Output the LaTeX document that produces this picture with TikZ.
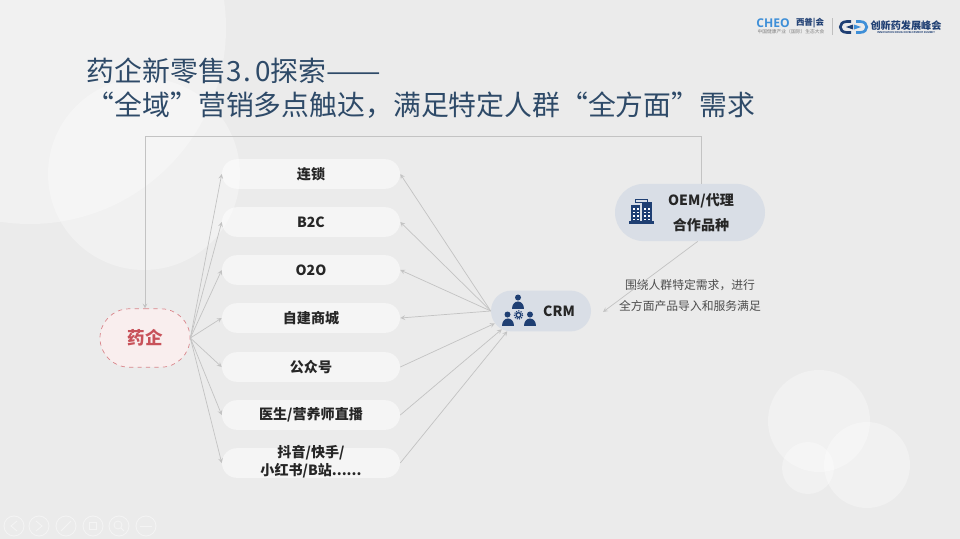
\documentclass[tikz,border=0pt]{standalone}
\usepackage{graphicx}
\usepackage{fontspec}
\setmainfont{Noto Sans CJK SC}
\newfontfamily\latinfont{Open Sans}
\usetikzlibrary{shapes.misc}
\definecolor{bgcol}{HTML}{EBEBEB}
\definecolor{titlecol}{HTML}{2E4A68}
\definecolor{navycol}{HTML}{1F3F73}
\definecolor{skycol}{HTML}{3E8FD8}
\definecolor{pillcol}{HTML}{D9DEE6}
\definecolor{linecol}{HTML}{C3C3C3}
\definecolor{redcol}{HTML}{C8525A}
\definecolor{pinkcol}{HTML}{F9EEEE}
\tikzset{
  chanbox/.style={rounded rectangle,fill=white,fill opacity=.5,text opacity=1,minimum width=44.5mm,minimum height=7.4mm,inner sep=0pt,align=center,font=\fontsize{10}{13}\selectfont\bfseries,text=black!85},
  darkpill/.style={rounded rectangle,fill=pillcol,inner sep=0pt,align=center,font=\fontsize{10}{17.8}\selectfont\bfseries,text=black!85},
  linkline/.style={draw=linecol,line width=.5pt,-stealth},
  softdisc/.style={fill=white,fill opacity=.3,draw=none},
  toolring/.style={draw=white!45!bgcol,line width=.6pt}
}
\newcommand{\personicon}[2]{
  \fill[navycol] (#1,#2-5.5) circle (3);
  \fill[navycol] (#1-6,#2+6) .. controls (#1-6,#2-4) and (#1+6,#2-4) .. (#1+6,#2+6) -- cycle;
}
\begin{document}
\begin{tikzpicture}[x=.25mm,y=-.25mm]
\fill[bgcol] (0,0) rectangle (960,539);
\useasboundingbox (0,0) rectangle (960,539);

% background discs
\begin{scope}
\clip (0,0) rectangle (960,539);
\fill[softdisc] (30,28) circle (196);
\fill[softdisc] (144,174) circle (96);
\fill[softdisc] (819,421) circle (51);
\fill[softdisc] (867,465) circle (43);
\fill[softdisc] (808,468) circle (26);
\end{scope}

% logos
\node[text=skycol,font=\latinfont\fontsize{8.6}{8}\selectfont\bfseries] (cheo) at (773,23) {CHEO};
\node[text=navycol,font=\fontsize{6}{6}\selectfont\bfseries] (xipu) at (810,23) {西普|会};
\node[text=gray,font=\fontsize{3.4}{4}\selectfont] (cheosub) at (791,32) {中国健康产业（国际）生态大会};
\draw[gray!50,line width=.3pt] (832,18) -- (832,35);
\draw[navycol,line width=1.9pt] (851,21.5) -- (847,21.5) .. controls (838,21.5) and (838,32.5) .. (847,32.5) -- (851,32.5);
\draw[skycol,line width=1.9pt] (856,21.5) -- (860,21.5) .. controls (869,21.5) and (869,32.5) .. (860,32.5) -- (856,32.5);
\fill[navycol] (846,27) -- (853,24.5) -- (853,29.5) -- cycle;
\fill[skycol] (861,27) -- (854,24.5) -- (854,29.5) -- cycle;
\node[text=navycol,font=\fontsize{7.2}{8}\selectfont\bfseries] (summit) at (906,26) {创新药发展峰会};
\node[text=navycol,font=\latinfont\fontsize{1.9}{2}\selectfont\bfseries] (summitsub) at (906,33) {INNOVATION DRUG DEVELOPMENT SUMMIT};

% title
\node[anchor=west,text=titlecol,font=\fontsize{19.8}{24}\selectfont] (titleone) at (82,71) {药企新零售3\kern1.2pt.\kern3pt0探索\scalebox{1.17}[1]{——}};
\node[anchor=west,text=titlecol,font=\fontsize{19.8}{24}\selectfont] (titletwo) at (82,105) {“全域”营销多点触达，满足特定人群“全方面”需求};

% main nodes
\node[rounded rectangle,draw=redcol!70,dashed,fill=pinkcol,line width=.5pt,minimum width=22.5mm,minimum height=14.6mm,inner sep=0pt,text=redcol,font=\fontsize{12.5}{14}\selectfont\bfseries] (pharma) at (145,338) {药企};
\node[chanbox] (chain) at (311,174) {连锁};
\node[chanbox] (btoc) at (311,222) {B2C};
\node[chanbox] (otoo) at (311,270) {O2O};
\node[chanbox] (mall) at (311,318) {自建商城};
\node[chanbox] (wechat) at (311,367) {公众号};
\node[chanbox] (live) at (311,415) {医生/营养师直播};
\node[chanbox] (video) at (311,463) {\smash{\raisebox{-2.5pt}{\begin{tabular}{@{}c@{}}抖音/快手/\\小红书/B站......\end{tabular}}}};
\node[darkpill,minimum width=25mm,minimum height=10.2mm,text depth=0pt] (crm) at (541,311) {\hspace*{9mm}CRM};
\node[darkpill,minimum width=37.5mm,minimum height=14.3mm] (oem) at (690,212.5) {\hspace*{5.5mm}OEM/代理\\\hspace*{5.5mm}合作品种};
\node[text=black!70,align=center,font=\fontsize{8.4}{15.6}\selectfont] (needs) at (690,295.5) {围绕人群特定需求，进行\\全方面产品导入和服务满足};

% icons
\personicon{518}{303}
\personicon{507.5}{320}
\personicon{530}{320}
\fill[pillcol] (518.5,315) circle (5.2);
\draw[navycol,line width=1pt] (518.5,315) circle (2.4);
\draw[navycol,line width=.8pt,dash pattern=on .8pt off .9pt] (518.5,315) circle (4.2);
\fill[navycol] (629,224) rectangle (654,221);
\fill[navycol] (631,222) rectangle (640,205);
\fill[navycol] (642,222) rectangle (652,202);
\draw[navycol,line width=.35pt] (635,199.5) rectangle (647,202);
\foreach \bx in {632.5,636.5,644,648}
  \foreach \by in {208,211.5,215,218.5}
    \fill[white] (\bx,\by) rectangle ++(2.2,1.6);

% links
\draw[linkline] (pharma.east) -- (chain.west);
\draw[linkline] (pharma.east) -- (btoc.west);
\draw[linkline] (pharma.east) -- (otoo.west);
\draw[linkline] (pharma.east) -- (mall.west);
\draw[linkline] (pharma.east) -- (wechat.west);
\draw[linkline] (pharma.east) -- (live.west);
\draw[linkline] (pharma.east) -- (video.west);
\draw[linkline] (crm.west) -- (chain.east);
\draw[linkline] (crm.west) -- (btoc.east);
\draw[linkline] (crm.west) -- (otoo.east);
\draw[linkline] (crm.west) -- (mall.east);
\draw[linkline] (wechat.east) -- (crm.195);
\draw[linkline] (live.east) -- (crm.205);
\draw[linkline] (video.east) -- (crm.211);
\coordinate (needsend) at (603,312);
\draw[linkline] (oem.-75) -- (needsend);
\coordinate (topright) at (701,136);
\coordinate (topleft) at (145,136);
\draw[linkline] (oem.north -| topright) -- (topright) -- (topleft) -- (pharma.north);

% toolbar
\foreach \tx in {14,39,66,93,119,146}
  \draw[toolring] (\tx,526) circle (10);
\draw[toolring] (17,521) -- (11,526) -- (17,531);
\draw[toolring] (36,521) -- (42,526) -- (36,531);
\draw[toolring] (61,531) -- (71,521);
\draw[toolring] (89,522) rectangle (96,529);
\draw[toolring] (118,525) circle (4) (121,528) -- (124,531);
\draw[toolring] (140,526) -- (152,526);
\end{tikzpicture}
\end{document}
